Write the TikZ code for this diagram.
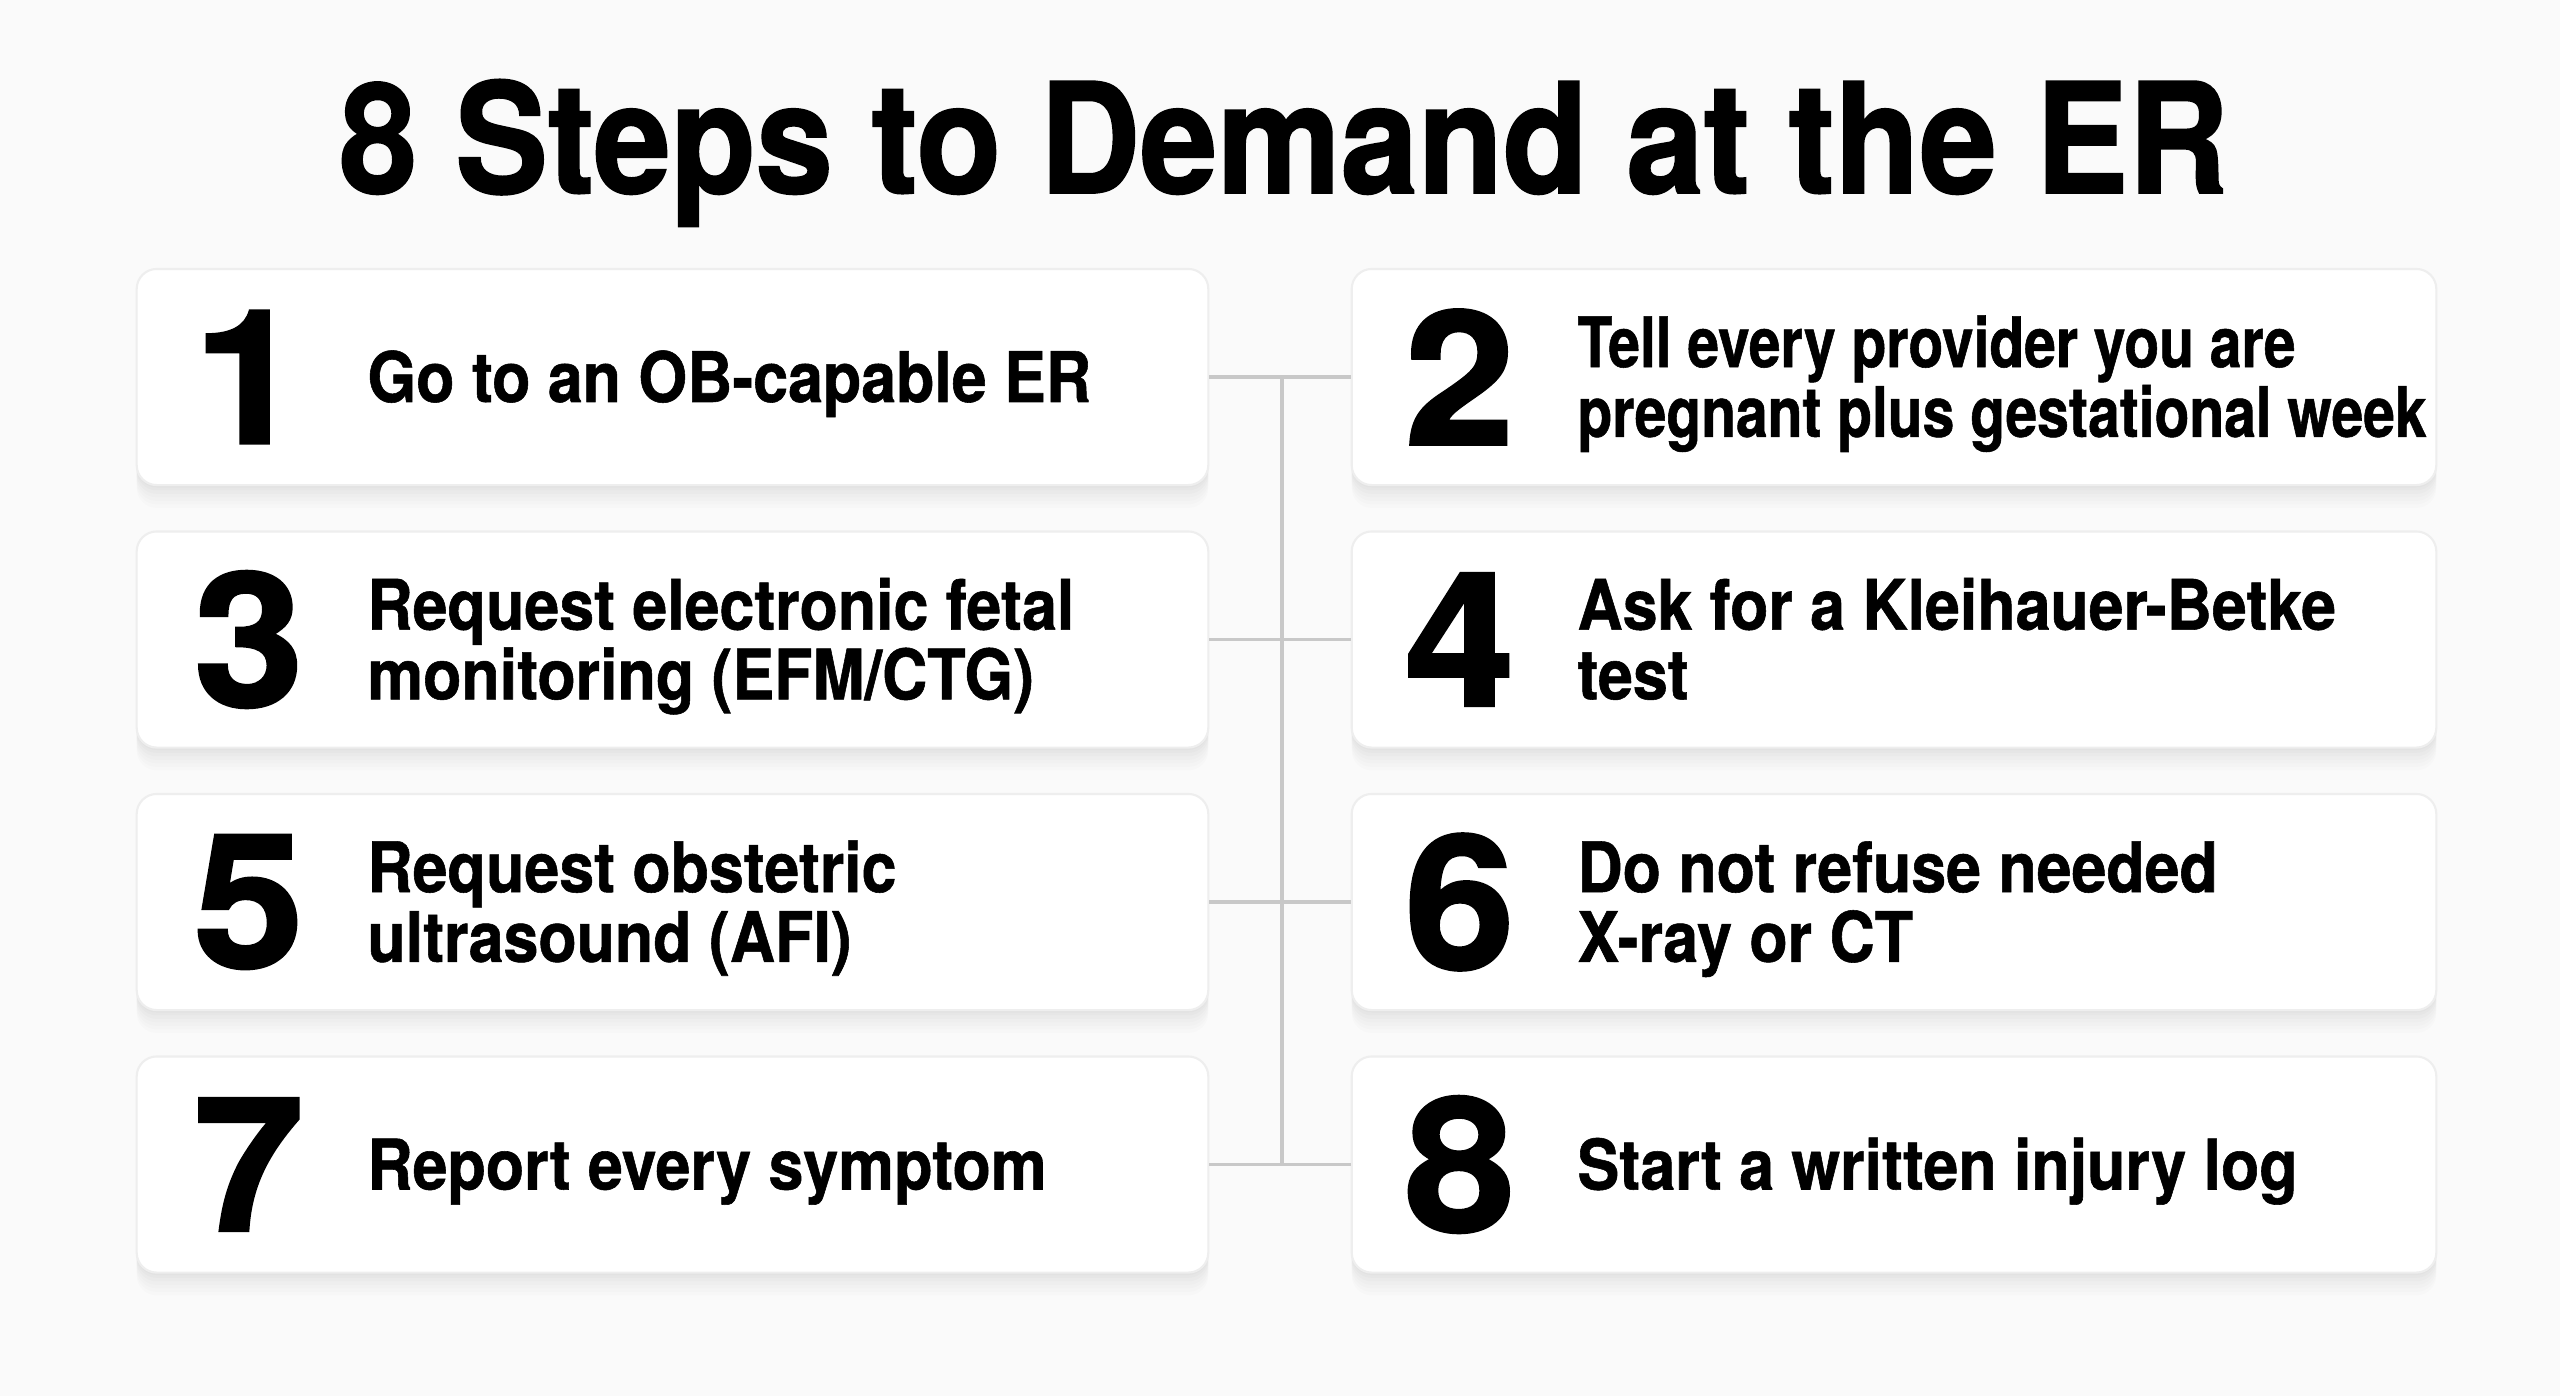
\documentclass[tikz,border=0pt]{standalone}
\usepackage{fontspec}
\setmainfont{TeX Gyre Heros}
\newfontfamily\titlefont{TeX Gyre Heros}[FakeStretch=0.906, FakeBold=1.2]
\newfontfamily\stepfont{TeX Gyre Heros}[FakeStretch=0.9, FakeBold=0.8]
\newfontfamily\tightfont{TeX Gyre Heros}[FakeStretch=0.818, FakeBold=0.8]
\newfontfamily\numfont{TeX Gyre Heros}[FakeStretch=1.06, FakeBold=1.6]
\usetikzlibrary{positioning}
\definecolor{pagebg}{HTML}{FAFAFA}
\definecolor{linkgray}{HTML}{C8C8C8}
\definecolor{cardedge}{HTML}{EEEEEE}
\tikzset{
  card/.style={rectangle, rounded corners=0.2cm, fill=white, draw=cardedge, line width=0.6pt,
               minimum height=2.16cm, inner sep=0pt,
               preaction={draw=none, fill=black, fill opacity=0.010, transform canvas={yshift=-6.5pt}},
               preaction={draw=none, fill=black, fill opacity=0.010, transform canvas={yshift=-5.5pt}},
               preaction={draw=none, fill=black, fill opacity=0.012, transform canvas={yshift=-4.5pt}},
               preaction={draw=none, fill=black, fill opacity=0.012, transform canvas={yshift=-3.5pt}},
               preaction={draw=none, fill=black, fill opacity=0.014, transform canvas={yshift=-2.5pt}},
               preaction={draw=none, fill=black, fill opacity=0.014, transform canvas={yshift=-1.5pt}},
               preaction={draw=none, fill=black, fill opacity=0.016, transform canvas={yshift=-0.7pt}}},
  num/.style={font=\numfont\bfseries\fontsize{53}{53}\selectfont, inner sep=0pt},
  txt/.style={font=\stepfont\bfseries\fontsize{19.8}{19.8}\selectfont, align=left, anchor=west,
              inner sep=0pt, text depth=0pt, text height=14.2pt},
  txttwo/.style={txt, text height=34pt},
  link/.style={linkgray, line width=1.1pt},
}

\begin{document}
\begin{tikzpicture}[x=0.01cm, y=-0.01cm]
  \fill[pagebg] (0,0) rectangle (2560,1396);
  \useasboundingbox (0,0) rectangle (2560,1396);
  \node[font=\titlefont\bfseries\fontsize{43.6}{43.6}\selectfont, anchor=base] (title) at (1284,193) {8 Steps to Demand at the ER};
  % cards, left and right column
  \node[card, minimum width=10.71cm] (c1) at (672.5,377) {};
  \node[card, minimum width=10.84cm] (c2) at (1894,377) {};
  \node[card, minimum width=10.71cm] (c3) at (672.5,639.5) {};
  \node[card, minimum width=10.84cm] (c4) at (1894,639.5) {};
  \node[card, minimum width=10.71cm] (c5) at (672.5,902) {};
  \node[card, minimum width=10.84cm] (c6) at (1894,902) {};
  \node[card, minimum width=10.71cm] (c7) at (672.5,1164.5) {};
  \node[card, minimum width=10.84cm] (c8) at (1894,1164.5) {};
  % connectors
  \coordinate (spine) at (1282,0);
  \draw[link] (c1.east) -- (c2.west); \draw[link] (c3.east) -- (c4.west);
  \draw[link] (c5.east) -- (c6.west); \draw[link] (c7.east) -- (c8.west);
  \draw[link] (spine |- c1.east) -- (spine |- c7.east);
  % numbers
  \node[num] (n1) at ([xshift=1.13cm]c1.west) {1};
  \node[num] (n2) at ([xshift=1.09cm]c2.west) {2};
  \node[num] (n3) at ([xshift=1.13cm]c3.west) {3};
  \node[num] (n4) at ([xshift=1.09cm]c4.west) {4};
  \node[num] (n5) at ([xshift=1.13cm]c5.west) {5};
  \node[num] (n6) at ([xshift=1.09cm]c6.west) {6};
  \node[num] (n7) at ([xshift=1.13cm]c7.west) {7};
  \node[num] (n8) at ([xshift=1.09cm]c8.west) {8};
  % step texts
  \node[txt] (t1) at ([xshift=2.31cm]c1.west) {Go to an OB-capable ER};
  \node[txttwo, font=\tightfont\bfseries\fontsize{19.8}{19.8}\selectfont] (t2) at ([xshift=2.26cm]c2.west) {Tell every provider you are\\pregnant plus gestational week};
  \node[txttwo] (t3) at ([xshift=2.31cm]c3.west) {Request electronic fetal\\monitoring (EFM/CTG)};
  \node[txttwo] (t4) at ([xshift=2.26cm]c4.west) {Ask for a Kleihauer-Betke\\test};
  \node[txttwo] (t5) at ([xshift=2.31cm]c5.west) {Request obstetric\\ultrasound (AFI)};
  \node[txttwo] (t6) at ([xshift=2.26cm]c6.west) {Do not refuse needed\\X-ray or CT};
  \node[txt] (t7) at ([xshift=2.31cm]c7.west) {Report every symptom};
  \node[txt] (t8) at ([xshift=2.26cm]c8.west) {Start a written injury log};
\end{tikzpicture}
\end{document}
